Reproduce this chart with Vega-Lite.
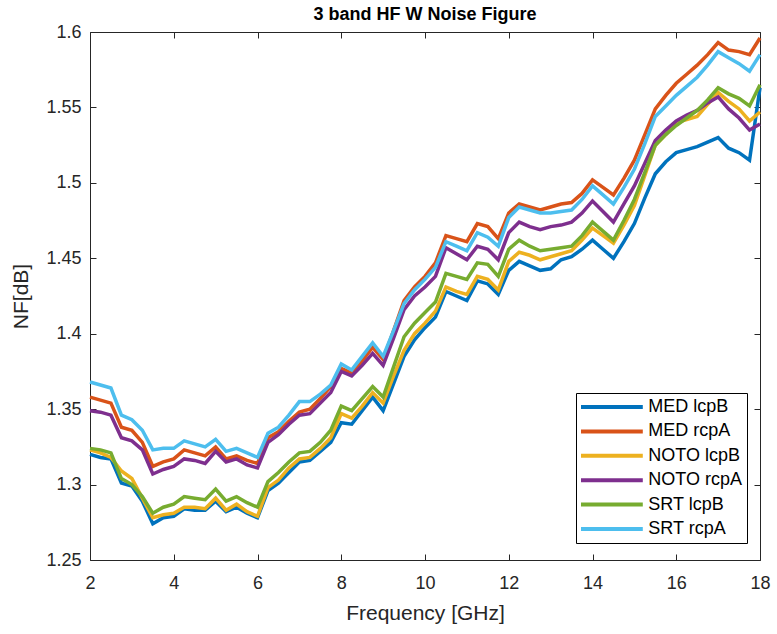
{
"$schema": "https://vega.github.io/schema/vega-lite/v6.json",
"width": 670,
"height": 528,
"autosize": {"type": "none"},
"padding": {"left": 90, "top": 32, "right": 17, "bottom": 74},
"background": "white",
"config": {"view": {"stroke": null}, "font": "Liberation Sans"},
"title": {"text": "3 band HF W Noise Figure", "fontSize": 18, "fontWeight": "bold", "font": "Liberation Sans", "color": "#000000", "anchor": "middle", "offset": -1},
"datasets": {"nf": [
{"f":2,"s":"MED lcpB","v":1.320},{"f":2.25,"s":"MED lcpB","v":1.318},{"f":2.5,"s":"MED lcpB","v":1.317},{"f":2.75,"s":"MED lcpB","v":1.301},{"f":3,"s":"MED lcpB","v":1.299},{"f":3.25,"s":"MED lcpB","v":1.289},{"f":3.5,"s":"MED lcpB","v":1.274},{"f":3.75,"s":"MED lcpB","v":1.278},{"f":4,"s":"MED lcpB","v":1.279},{"f":4.25,"s":"MED lcpB","v":1.284},
{"f":4.5,"s":"MED lcpB","v":1.283},{"f":4.75,"s":"MED lcpB","v":1.283},{"f":5,"s":"MED lcpB","v":1.289},{"f":5.25,"s":"MED lcpB","v":1.282},{"f":5.5,"s":"MED lcpB","v":1.285},{"f":5.75,"s":"MED lcpB","v":1.281},{"f":6,"s":"MED lcpB","v":1.278},{"f":6.25,"s":"MED lcpB","v":1.296},{"f":6.5,"s":"MED lcpB","v":1.301},{"f":6.75,"s":"MED lcpB","v":1.308},
{"f":7,"s":"MED lcpB","v":1.315},{"f":7.25,"s":"MED lcpB","v":1.316},{"f":7.5,"s":"MED lcpB","v":1.322},{"f":7.75,"s":"MED lcpB","v":1.328},{"f":8,"s":"MED lcpB","v":1.341},{"f":8.25,"s":"MED lcpB","v":1.340},{"f":8.5,"s":"MED lcpB","v":1.349},{"f":8.75,"s":"MED lcpB","v":1.358},{"f":9,"s":"MED lcpB","v":1.349},{"f":9.25,"s":"MED lcpB","v":1.367},
{"f":9.5,"s":"MED lcpB","v":1.385},{"f":9.75,"s":"MED lcpB","v":1.396},{"f":10,"s":"MED lcpB","v":1.404},{"f":10.25,"s":"MED lcpB","v":1.411},{"f":10.5,"s":"MED lcpB","v":1.428},{"f":10.75,"s":"MED lcpB","v":1.425},{"f":11,"s":"MED lcpB","v":1.422},{"f":11.25,"s":"MED lcpB","v":1.435},{"f":11.5,"s":"MED lcpB","v":1.433},{"f":11.75,"s":"MED lcpB","v":1.426},
{"f":12,"s":"MED lcpB","v":1.442},{"f":12.25,"s":"MED lcpB","v":1.448},{"f":12.5,"s":"MED lcpB","v":1.445},{"f":12.75,"s":"MED lcpB","v":1.442},{"f":13,"s":"MED lcpB","v":1.443},{"f":13.25,"s":"MED lcpB","v":1.449},{"f":13.5,"s":"MED lcpB","v":1.451},{"f":13.75,"s":"MED lcpB","v":1.456},{"f":14,"s":"MED lcpB","v":1.462},{"f":14.25,"s":"MED lcpB","v":1.456},
{"f":14.5,"s":"MED lcpB","v":1.450},{"f":14.75,"s":"MED lcpB","v":1.461},{"f":15,"s":"MED lcpB","v":1.473},{"f":15.25,"s":"MED lcpB","v":1.490},{"f":15.5,"s":"MED lcpB","v":1.506},{"f":15.75,"s":"MED lcpB","v":1.514},{"f":16,"s":"MED lcpB","v":1.520},{"f":16.25,"s":"MED lcpB","v":1.522},{"f":16.5,"s":"MED lcpB","v":1.524},{"f":16.75,"s":"MED lcpB","v":1.527},
{"f":17,"s":"MED lcpB","v":1.530},{"f":17.25,"s":"MED lcpB","v":1.523},{"f":17.5,"s":"MED lcpB","v":1.520},{"f":17.75,"s":"MED lcpB","v":1.515},{"f":18,"s":"MED lcpB","v":1.563},
{"f":2,"s":"MED rcpA","v":1.358},{"f":2.25,"s":"MED rcpA","v":1.356},{"f":2.5,"s":"MED rcpA","v":1.354},{"f":2.75,"s":"MED rcpA","v":1.338},{"f":3,"s":"MED rcpA","v":1.336},{"f":3.25,"s":"MED rcpA","v":1.328},{"f":3.5,"s":"MED rcpA","v":1.312},{"f":3.75,"s":"MED rcpA","v":1.315},{"f":4,"s":"MED rcpA","v":1.317},{"f":4.25,"s":"MED rcpA","v":1.323},
{"f":4.5,"s":"MED rcpA","v":1.321},{"f":4.75,"s":"MED rcpA","v":1.319},{"f":5,"s":"MED rcpA","v":1.325},{"f":5.25,"s":"MED rcpA","v":1.317},{"f":5.5,"s":"MED rcpA","v":1.319},{"f":5.75,"s":"MED rcpA","v":1.316},{"f":6,"s":"MED rcpA","v":1.314},{"f":6.25,"s":"MED rcpA","v":1.331},{"f":6.5,"s":"MED rcpA","v":1.335},{"f":6.75,"s":"MED rcpA","v":1.342},
{"f":7,"s":"MED rcpA","v":1.348},{"f":7.25,"s":"MED rcpA","v":1.350},{"f":7.5,"s":"MED rcpA","v":1.357},{"f":7.75,"s":"MED rcpA","v":1.365},{"f":8,"s":"MED rcpA","v":1.377},{"f":8.25,"s":"MED rcpA","v":1.374},{"f":8.5,"s":"MED rcpA","v":1.382},{"f":8.75,"s":"MED rcpA","v":1.391},{"f":9,"s":"MED rcpA","v":1.383},{"f":9.25,"s":"MED rcpA","v":1.402},
{"f":9.5,"s":"MED rcpA","v":1.422},{"f":9.75,"s":"MED rcpA","v":1.431},{"f":10,"s":"MED rcpA","v":1.438},{"f":10.25,"s":"MED rcpA","v":1.447},{"f":10.5,"s":"MED rcpA","v":1.465},{"f":10.75,"s":"MED rcpA","v":1.463},{"f":11,"s":"MED rcpA","v":1.461},{"f":11.25,"s":"MED rcpA","v":1.473},{"f":11.5,"s":"MED rcpA","v":1.471},{"f":11.75,"s":"MED rcpA","v":1.463},
{"f":12,"s":"MED rcpA","v":1.480},{"f":12.25,"s":"MED rcpA","v":1.486},{"f":12.5,"s":"MED rcpA","v":1.484},{"f":12.75,"s":"MED rcpA","v":1.482},{"f":13,"s":"MED rcpA","v":1.484},{"f":13.25,"s":"MED rcpA","v":1.486},{"f":13.5,"s":"MED rcpA","v":1.487},{"f":13.75,"s":"MED rcpA","v":1.493},{"f":14,"s":"MED rcpA","v":1.502},{"f":14.25,"s":"MED rcpA","v":1.497},
{"f":14.5,"s":"MED rcpA","v":1.492},{"f":14.75,"s":"MED rcpA","v":1.503},{"f":15,"s":"MED rcpA","v":1.515},{"f":15.25,"s":"MED rcpA","v":1.532},{"f":15.5,"s":"MED rcpA","v":1.549},{"f":15.75,"s":"MED rcpA","v":1.558},{"f":16,"s":"MED rcpA","v":1.566},{"f":16.25,"s":"MED rcpA","v":1.572},{"f":16.5,"s":"MED rcpA","v":1.578},{"f":16.75,"s":"MED rcpA","v":1.585},
{"f":17,"s":"MED rcpA","v":1.593},{"f":17.25,"s":"MED rcpA","v":1.588},{"f":17.5,"s":"MED rcpA","v":1.587},{"f":17.75,"s":"MED rcpA","v":1.585},{"f":18,"s":"MED rcpA","v":1.596},
{"f":2,"s":"NOTO lcpB","v":1.323},{"f":2.25,"s":"NOTO lcpB","v":1.321},{"f":2.5,"s":"NOTO lcpB","v":1.318},{"f":2.75,"s":"NOTO lcpB","v":1.309},{"f":3,"s":"NOTO lcpB","v":1.304},{"f":3.25,"s":"NOTO lcpB","v":1.291},{"f":3.5,"s":"NOTO lcpB","v":1.278},{"f":3.75,"s":"NOTO lcpB","v":1.280},{"f":4,"s":"NOTO lcpB","v":1.281},{"f":4.25,"s":"NOTO lcpB","v":1.285},
{"f":4.5,"s":"NOTO lcpB","v":1.285},{"f":4.75,"s":"NOTO lcpB","v":1.284},{"f":5,"s":"NOTO lcpB","v":1.291},{"f":5.25,"s":"NOTO lcpB","v":1.283},{"f":5.5,"s":"NOTO lcpB","v":1.287},{"f":5.75,"s":"NOTO lcpB","v":1.282},{"f":6,"s":"NOTO lcpB","v":1.279},{"f":6.25,"s":"NOTO lcpB","v":1.298},{"f":6.5,"s":"NOTO lcpB","v":1.303},{"f":6.75,"s":"NOTO lcpB","v":1.311},
{"f":7,"s":"NOTO lcpB","v":1.317},{"f":7.25,"s":"NOTO lcpB","v":1.318},{"f":7.5,"s":"NOTO lcpB","v":1.324},{"f":7.75,"s":"NOTO lcpB","v":1.331},{"f":8,"s":"NOTO lcpB","v":1.347},{"f":8.25,"s":"NOTO lcpB","v":1.344},{"f":8.5,"s":"NOTO lcpB","v":1.352},{"f":8.75,"s":"NOTO lcpB","v":1.361},{"f":9,"s":"NOTO lcpB","v":1.354},{"f":9.25,"s":"NOTO lcpB","v":1.372},
{"f":9.5,"s":"NOTO lcpB","v":1.389},{"f":9.75,"s":"NOTO lcpB","v":1.400},{"f":10,"s":"NOTO lcpB","v":1.407},{"f":10.25,"s":"NOTO lcpB","v":1.415},{"f":10.5,"s":"NOTO lcpB","v":1.431},{"f":10.75,"s":"NOTO lcpB","v":1.428},{"f":11,"s":"NOTO lcpB","v":1.426},{"f":11.25,"s":"NOTO lcpB","v":1.438},{"f":11.5,"s":"NOTO lcpB","v":1.436},{"f":11.75,"s":"NOTO lcpB","v":1.429},
{"f":12,"s":"NOTO lcpB","v":1.448},{"f":12.25,"s":"NOTO lcpB","v":1.454},{"f":12.5,"s":"NOTO lcpB","v":1.452},{"f":12.75,"s":"NOTO lcpB","v":1.449},{"f":13,"s":"NOTO lcpB","v":1.451},{"f":13.25,"s":"NOTO lcpB","v":1.453},{"f":13.5,"s":"NOTO lcpB","v":1.455},{"f":13.75,"s":"NOTO lcpB","v":1.462},{"f":14,"s":"NOTO lcpB","v":1.470},{"f":14.25,"s":"NOTO lcpB","v":1.465},
{"f":14.5,"s":"NOTO lcpB","v":1.460},{"f":14.75,"s":"NOTO lcpB","v":1.472},{"f":15,"s":"NOTO lcpB","v":1.485},{"f":15.25,"s":"NOTO lcpB","v":1.505},{"f":15.5,"s":"NOTO lcpB","v":1.525},{"f":15.75,"s":"NOTO lcpB","v":1.532},{"f":16,"s":"NOTO lcpB","v":1.540},{"f":16.25,"s":"NOTO lcpB","v":1.542},{"f":16.5,"s":"NOTO lcpB","v":1.544},{"f":16.75,"s":"NOTO lcpB","v":1.552},
{"f":17,"s":"NOTO lcpB","v":1.560},{"f":17.25,"s":"NOTO lcpB","v":1.554},{"f":17.5,"s":"NOTO lcpB","v":1.549},{"f":17.75,"s":"NOTO lcpB","v":1.541},{"f":18,"s":"NOTO lcpB","v":1.547},
{"f":2,"s":"NOTO rcpA","v":1.349},{"f":2.25,"s":"NOTO rcpA","v":1.348},{"f":2.5,"s":"NOTO rcpA","v":1.346},{"f":2.75,"s":"NOTO rcpA","v":1.331},{"f":3,"s":"NOTO rcpA","v":1.329},{"f":3.25,"s":"NOTO rcpA","v":1.323},{"f":3.5,"s":"NOTO rcpA","v":1.307},{"f":3.75,"s":"NOTO rcpA","v":1.310},{"f":4,"s":"NOTO rcpA","v":1.312},{"f":4.25,"s":"NOTO rcpA","v":1.317},
{"f":4.5,"s":"NOTO rcpA","v":1.316},{"f":4.75,"s":"NOTO rcpA","v":1.314},{"f":5,"s":"NOTO rcpA","v":1.322},{"f":5.25,"s":"NOTO rcpA","v":1.315},{"f":5.5,"s":"NOTO rcpA","v":1.317},{"f":5.75,"s":"NOTO rcpA","v":1.313},{"f":6,"s":"NOTO rcpA","v":1.311},{"f":6.25,"s":"NOTO rcpA","v":1.328},{"f":6.5,"s":"NOTO rcpA","v":1.333},{"f":6.75,"s":"NOTO rcpA","v":1.340},
{"f":7,"s":"NOTO rcpA","v":1.346},{"f":7.25,"s":"NOTO rcpA","v":1.347},{"f":7.5,"s":"NOTO rcpA","v":1.354},{"f":7.75,"s":"NOTO rcpA","v":1.361},{"f":8,"s":"NOTO rcpA","v":1.375},{"f":8.25,"s":"NOTO rcpA","v":1.372},{"f":8.5,"s":"NOTO rcpA","v":1.379},{"f":8.75,"s":"NOTO rcpA","v":1.387},{"f":9,"s":"NOTO rcpA","v":1.379},{"f":9.25,"s":"NOTO rcpA","v":1.397},
{"f":9.5,"s":"NOTO rcpA","v":1.416},{"f":9.75,"s":"NOTO rcpA","v":1.425},{"f":10,"s":"NOTO rcpA","v":1.431},{"f":10.25,"s":"NOTO rcpA","v":1.438},{"f":10.5,"s":"NOTO rcpA","v":1.457},{"f":10.75,"s":"NOTO rcpA","v":1.453},{"f":11,"s":"NOTO rcpA","v":1.449},{"f":11.25,"s":"NOTO rcpA","v":1.458},{"f":11.5,"s":"NOTO rcpA","v":1.456},{"f":11.75,"s":"NOTO rcpA","v":1.449},
{"f":12,"s":"NOTO rcpA","v":1.467},{"f":12.25,"s":"NOTO rcpA","v":1.474},{"f":12.5,"s":"NOTO rcpA","v":1.471},{"f":12.75,"s":"NOTO rcpA","v":1.469},{"f":13,"s":"NOTO rcpA","v":1.471},{"f":13.25,"s":"NOTO rcpA","v":1.472},{"f":13.5,"s":"NOTO rcpA","v":1.474},{"f":13.75,"s":"NOTO rcpA","v":1.480},{"f":14,"s":"NOTO rcpA","v":1.488},{"f":14.25,"s":"NOTO rcpA","v":1.481},
{"f":14.5,"s":"NOTO rcpA","v":1.474},{"f":14.75,"s":"NOTO rcpA","v":1.486},{"f":15,"s":"NOTO rcpA","v":1.498},{"f":15.25,"s":"NOTO rcpA","v":1.513},{"f":15.5,"s":"NOTO rcpA","v":1.528},{"f":15.75,"s":"NOTO rcpA","v":1.535},{"f":16,"s":"NOTO rcpA","v":1.541},{"f":16.25,"s":"NOTO rcpA","v":1.545},{"f":16.5,"s":"NOTO rcpA","v":1.548},{"f":16.75,"s":"NOTO rcpA","v":1.553},
{"f":17,"s":"NOTO rcpA","v":1.557},{"f":17.25,"s":"NOTO rcpA","v":1.549},{"f":17.5,"s":"NOTO rcpA","v":1.543},{"f":17.75,"s":"NOTO rcpA","v":1.535},{"f":18,"s":"NOTO rcpA","v":1.539},
{"f":2,"s":"SRT lcpB","v":1.324},{"f":2.25,"s":"SRT lcpB","v":1.323},{"f":2.5,"s":"SRT lcpB","v":1.321},{"f":2.75,"s":"SRT lcpB","v":1.304},{"f":3,"s":"SRT lcpB","v":1.300},{"f":3.25,"s":"SRT lcpB","v":1.292},{"f":3.5,"s":"SRT lcpB","v":1.281},{"f":3.75,"s":"SRT lcpB","v":1.285},{"f":4,"s":"SRT lcpB","v":1.287},{"f":4.25,"s":"SRT lcpB","v":1.292},
{"f":4.5,"s":"SRT lcpB","v":1.291},{"f":4.75,"s":"SRT lcpB","v":1.290},{"f":5,"s":"SRT lcpB","v":1.297},{"f":5.25,"s":"SRT lcpB","v":1.289},{"f":5.5,"s":"SRT lcpB","v":1.292},{"f":5.75,"s":"SRT lcpB","v":1.288},{"f":6,"s":"SRT lcpB","v":1.285},{"f":6.25,"s":"SRT lcpB","v":1.302},{"f":6.5,"s":"SRT lcpB","v":1.308},{"f":6.75,"s":"SRT lcpB","v":1.315},
{"f":7,"s":"SRT lcpB","v":1.321},{"f":7.25,"s":"SRT lcpB","v":1.322},{"f":7.5,"s":"SRT lcpB","v":1.328},{"f":7.75,"s":"SRT lcpB","v":1.336},{"f":8,"s":"SRT lcpB","v":1.352},{"f":8.25,"s":"SRT lcpB","v":1.349},{"f":8.5,"s":"SRT lcpB","v":1.357},{"f":8.75,"s":"SRT lcpB","v":1.365},{"f":9,"s":"SRT lcpB","v":1.358},{"f":9.25,"s":"SRT lcpB","v":1.378},
{"f":9.5,"s":"SRT lcpB","v":1.398},{"f":9.75,"s":"SRT lcpB","v":1.407},{"f":10,"s":"SRT lcpB","v":1.414},{"f":10.25,"s":"SRT lcpB","v":1.421},{"f":10.5,"s":"SRT lcpB","v":1.440},{"f":10.75,"s":"SRT lcpB","v":1.438},{"f":11,"s":"SRT lcpB","v":1.436},{"f":11.25,"s":"SRT lcpB","v":1.447},{"f":11.5,"s":"SRT lcpB","v":1.446},{"f":11.75,"s":"SRT lcpB","v":1.438},
{"f":12,"s":"SRT lcpB","v":1.456},{"f":12.25,"s":"SRT lcpB","v":1.462},{"f":12.5,"s":"SRT lcpB","v":1.458},{"f":12.75,"s":"SRT lcpB","v":1.455},{"f":13,"s":"SRT lcpB","v":1.456},{"f":13.25,"s":"SRT lcpB","v":1.457},{"f":13.5,"s":"SRT lcpB","v":1.458},{"f":13.75,"s":"SRT lcpB","v":1.465},{"f":14,"s":"SRT lcpB","v":1.474},{"f":14.25,"s":"SRT lcpB","v":1.468},
{"f":14.5,"s":"SRT lcpB","v":1.462},{"f":14.75,"s":"SRT lcpB","v":1.475},{"f":15,"s":"SRT lcpB","v":1.489},{"f":15.25,"s":"SRT lcpB","v":1.507},{"f":15.5,"s":"SRT lcpB","v":1.525},{"f":15.75,"s":"SRT lcpB","v":1.532},{"f":16,"s":"SRT lcpB","v":1.538},{"f":16.25,"s":"SRT lcpB","v":1.543},{"f":16.5,"s":"SRT lcpB","v":1.548},{"f":16.75,"s":"SRT lcpB","v":1.555},
{"f":17,"s":"SRT lcpB","v":1.563},{"f":17.25,"s":"SRT lcpB","v":1.559},{"f":17.5,"s":"SRT lcpB","v":1.556},{"f":17.75,"s":"SRT lcpB","v":1.551},{"f":18,"s":"SRT lcpB","v":1.565},
{"f":2,"s":"SRT rcpA","v":1.368},{"f":2.25,"s":"SRT rcpA","v":1.366},{"f":2.5,"s":"SRT rcpA","v":1.364},{"f":2.75,"s":"SRT rcpA","v":1.346},{"f":3,"s":"SRT rcpA","v":1.343},{"f":3.25,"s":"SRT rcpA","v":1.336},{"f":3.5,"s":"SRT rcpA","v":1.323},{"f":3.75,"s":"SRT rcpA","v":1.324},{"f":4,"s":"SRT rcpA","v":1.324},{"f":4.25,"s":"SRT rcpA","v":1.329},
{"f":4.5,"s":"SRT rcpA","v":1.327},{"f":4.75,"s":"SRT rcpA","v":1.325},{"f":5,"s":"SRT rcpA","v":1.330},{"f":5.25,"s":"SRT rcpA","v":1.322},{"f":5.5,"s":"SRT rcpA","v":1.324},{"f":5.75,"s":"SRT rcpA","v":1.321},{"f":6,"s":"SRT rcpA","v":1.318},{"f":6.25,"s":"SRT rcpA","v":1.334},{"f":6.5,"s":"SRT rcpA","v":1.338},{"f":6.75,"s":"SRT rcpA","v":1.346},
{"f":7,"s":"SRT rcpA","v":1.355},{"f":7.25,"s":"SRT rcpA","v":1.355},{"f":7.5,"s":"SRT rcpA","v":1.360},{"f":7.75,"s":"SRT rcpA","v":1.366},{"f":8,"s":"SRT rcpA","v":1.380},{"f":8.25,"s":"SRT rcpA","v":1.376},{"f":8.5,"s":"SRT rcpA","v":1.385},{"f":8.75,"s":"SRT rcpA","v":1.394},{"f":9,"s":"SRT rcpA","v":1.385},{"f":9.25,"s":"SRT rcpA","v":1.402},
{"f":9.5,"s":"SRT rcpA","v":1.420},{"f":9.75,"s":"SRT rcpA","v":1.429},{"f":10,"s":"SRT rcpA","v":1.436},{"f":10.25,"s":"SRT rcpA","v":1.444},{"f":10.5,"s":"SRT rcpA","v":1.461},{"f":10.75,"s":"SRT rcpA","v":1.458},{"f":11,"s":"SRT rcpA","v":1.455},{"f":11.25,"s":"SRT rcpA","v":1.467},{"f":11.5,"s":"SRT rcpA","v":1.464},{"f":11.75,"s":"SRT rcpA","v":1.458},
{"f":12,"s":"SRT rcpA","v":1.477},{"f":12.25,"s":"SRT rcpA","v":1.484},{"f":12.5,"s":"SRT rcpA","v":1.482},{"f":12.75,"s":"SRT rcpA","v":1.480},{"f":13,"s":"SRT rcpA","v":1.480},{"f":13.25,"s":"SRT rcpA","v":1.481},{"f":13.5,"s":"SRT rcpA","v":1.482},{"f":13.75,"s":"SRT rcpA","v":1.489},{"f":14,"s":"SRT rcpA","v":1.498},{"f":14.25,"s":"SRT rcpA","v":1.492},
{"f":14.5,"s":"SRT rcpA","v":1.486},{"f":14.75,"s":"SRT rcpA","v":1.497},{"f":15,"s":"SRT rcpA","v":1.509},{"f":15.25,"s":"SRT rcpA","v":1.526},{"f":15.5,"s":"SRT rcpA","v":1.544},{"f":15.75,"s":"SRT rcpA","v":1.551},{"f":16,"s":"SRT rcpA","v":1.558},{"f":16.25,"s":"SRT rcpA","v":1.564},{"f":16.5,"s":"SRT rcpA","v":1.570},{"f":16.75,"s":"SRT rcpA","v":1.578},
{"f":17,"s":"SRT rcpA","v":1.587},{"f":17.25,"s":"SRT rcpA","v":1.583},{"f":17.5,"s":"SRT rcpA","v":1.579},{"f":17.75,"s":"SRT rcpA","v":1.574},{"f":18,"s":"SRT rcpA","v":1.585}
]},
"data": {"name": "nf"},
"layer": [
{
"mark": {"type": "line", "strokeWidth": 3.5},
"encoding": {
"x": {"field": "f", "type": "quantitative",
 "scale": {"domain": [2, 18], "nice": false, "zero": false},
 "axis": {"orient": "bottom", "values": [2,4,6,8,10,12,14,16,18], "format": "d", "grid": false,
  "labelFontSize": 18, "labelFont": "Liberation Sans", "labelColor": "#262626", "labelFlush": false, "labelPadding": 20,
  "tickSize": -6, "tickColor": "#262626", "domainColor": "#262626",
  "title": "Frequency [GHz]", "titleFont": "Liberation Sans", "titleFontSize": 21, "titleFontWeight": "normal", "titleColor": "#262626", "titlePadding": 10}},
"y": {"field": "v", "type": "quantitative",
 "scale": {"domain": [1.25, 1.6], "nice": false, "zero": false},
 "axis": {"orient": "left", "values": [1.25,1.3,1.35,1.4,1.45,1.5,1.55,1.6], "format": ".2~f", "grid": false,
  "labelFontSize": 18, "labelFont": "Liberation Sans", "labelColor": "#262626", "labelFlush": false, "labelPadding": 15,
  "tickSize": -6, "tickColor": "#262626", "domainColor": "#262626",
  "title": "NF[dB]", "titleFont": "Liberation Sans", "titleFontSize": 21, "titleFontWeight": "normal", "titleColor": "#262626", "titlePadding": 14}},
"color": {"field": "s", "type": "nominal",
 "scale": {"domain": ["MED lcpB","MED rcpA","NOTO lcpB","NOTO rcpA","SRT lcpB","SRT rcpA"],
  "range": ["#0072BD","#D95319","#EDB120","#7E2F8E","#77AC30","#4DBEEE"]},
 "legend": {"orient": "none", "legendX": 486, "legendY": 361, "title": null,
  "symbolType": "M-9.3,0H1", "symbolSize": 144, "symbolStrokeWidth": 4, "symbolOffset": 46.8,
  "labelOffset": 2.5, "labelFontSize": 18, "labelFont": "Liberation Sans", "labelColor": "#000000", "labelLimit": 0,
  "padding": 5, "rowPadding": 6.4, "strokeColor": "#000000", "fillColor": "#ffffff"}}
}
},
{
"mark": {"type": "point", "opacity": 0},
"encoding": {
"x": {"field": "f", "type": "quantitative",
 "scale": {"domain": [2, 18], "nice": false, "zero": false},
 "axis": {"orient": "top", "values": [2,4,6,8,10,12,14,16,18], "labels": false, "title": null, "grid": false,
  "tickSize": -6, "tickColor": "#262626", "domainColor": "#262626"}},
"y": {"field": "v", "type": "quantitative",
 "scale": {"domain": [1.25, 1.6], "nice": false, "zero": false},
 "axis": {"orient": "right", "values": [1.25,1.3,1.35,1.4,1.45,1.5,1.55,1.6], "labels": false, "title": null, "grid": false,
  "tickSize": -6, "tickColor": "#262626", "domainColor": "#262626"}}
}
}
],
"resolve": {"axis": {"x": "independent", "y": "independent"}}
}
